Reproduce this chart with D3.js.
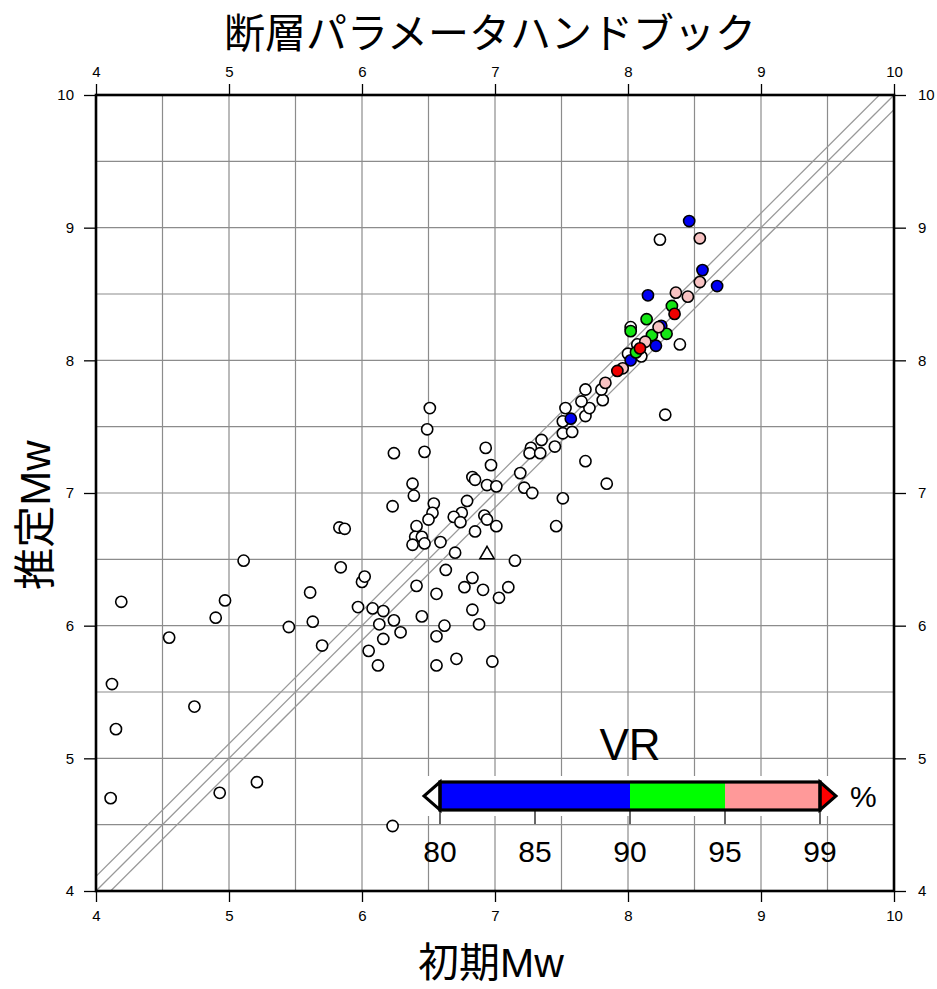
<!DOCTYPE html>
<html><head><meta charset="utf-8">
<script src="https://cdn.jsdelivr.net/npm/d3@7"></script>
<style>body{margin:0;background:#fff}svg{display:block}</style>
</head><body>
<script>
// ---- data ----
const axisTicks = [4,5,6,7,8,9,10];
const gridValues = [4.5,5,5.5,6,6.5,7,7.5,8,8.5,9,9.5];
const vrTicks = [80,85,90,95,99];
const vrTickLabels = ["80","85","90","95","99"];
const vrBreaks = [80,90,95,99];

// VR < 80 (white)
const initLow = [4.11,4.12,4.15,4.19,4.55,4.74,4.90,4.97,4.93,5.11,5.21,5.45,5.61,5.63,5.70,5.83,5.87,5.84,5.97,6.00,6.02,6.08,6.16,6.24,6.13,6.05,6.12,6.29,6.16,6.23,
 6.51,6.49,6.47,6.24,6.93,6.97,6.83,6.85,6.94,7.01,6.38,6.39,6.23,6.54,6.53,6.50,6.79,6.75,6.69,6.74,6.92,6.94,7.01,6.85,6.41,6.40,6.45,6.38,6.47,6.59,6.70,7.15,6.63,6.83,6.77,6.91,7.10,7.03,6.41,6.56,6.45,6.83,6.88,6.62,6.56,6.56,6.71,6.98,
 7.19,7.22,7.28,7.27,7.26,7.35,7.34,7.45,7.46,7.51,7.51,7.58,7.51,7.53,7.68,7.71,7.65,7.81,7.68,7.68,7.84,7.80,8.28,8.39,8.24,8.02,8.10,8.00,8.07];
const estLow = [4.70,5.56,5.22,6.18,5.91,5.39,6.06,6.19,4.74,6.49,4.82,5.99,6.25,6.03,5.85,6.74,6.73,6.44,6.14,6.33,6.37,6.13,6.11,6.04,6.01,5.81,5.70,5.95,5.90,4.49,
 7.64,7.48,7.31,7.30,7.34,7.21,7.12,7.10,7.06,7.05,7.07,6.98,6.90,6.92,6.85,6.80,6.94,6.85,6.82,6.78,6.83,6.80,6.75,6.71,6.75,6.67,6.67,6.61,6.62,6.63,6.55,6.49,6.42,6.36,6.29,6.27,6.29,6.21,6.30,6.24,6.07,6.12,6.01,6.00,5.92,5.70,5.75,5.73,
 7.15,7.04,7.00,7.34,7.30,7.40,7.30,7.35,6.75,6.96,7.45,7.46,7.54,7.64,7.58,7.64,7.69,7.70,7.78,7.24,7.07,7.78,7.59,8.12,8.91,8.25,8.03,8.05,8.12];
// special event (triangle)
const initTri = [6.94];
const estTri = [6.52];
// VR 80-90 (blue)
const initBlue = [7.57,8.02,8.21,8.15,8.25,8.46,8.56,8.67];
const estBlue  = [7.56,8.00,8.11,8.49,8.26,9.05,8.68,8.56];
// VR 90-95 (green)
const initGreen = [8.02,8.14,8.33,8.18,8.29,8.06];
const estGreen  = [8.22,8.31,8.41,8.19,8.20,8.06];
// VR 95-99 (pink)
const initPink = [7.83,7.96,8.13,8.23,8.36,8.45,8.54,8.54];
const estPink  = [7.83,7.94,8.14,8.25,8.51,8.48,8.59,8.92];
// VR > 99 (red)
const initRed = [7.92,8.09,8.35];
const estRed  = [7.92,8.09,8.35];

const bandOffset = 0.11;

// ---- layout ----
const W = 937, H = 989;
const L = 96, R = 894, T = 95, B = 891;
const fontLat = "'Liberation Sans', Arial, Helvetica, sans-serif";
const fontJp = "'Liberation Sans', 'Noto Sans CJK JP', sans-serif";

const svg = d3.select("body").append("svg").attr("width", W).attr("height", H);
const x = d3.scaleLinear().domain([4,10]).range([L,R]);
const y = d3.scaleLinear().domain([4,10]).range([B,T]);

// grid
const g = svg.append("g");
g.selectAll("line.gx").data(gridValues).enter().append("line")
  .attr("x1", d=>x(d)).attr("x2", d=>x(d)).attr("y1", T).attr("y2", B)
  .attr("stroke", "#8c8c8c").attr("stroke-width", 1.2);
g.selectAll("line.gy").data(gridValues).enter().append("line")
  .attr("y1", d=>y(d)).attr("y2", d=>y(d)).attr("x1", L).attr("x2", R)
  .attr("stroke", "#8c8c8c").attr("stroke-width", 1.2);

// diagonal band lines
svg.append("defs").append("clipPath").attr("id","clip").append("rect")
  .attr("x", L).attr("y", T).attr("width", R-L).attr("height", B-T);
const diag = svg.append("g").attr("clip-path","url(#clip)");
[-bandOffset, 0, bandOffset].forEach(o => {
  diag.append("line")
    .attr("x1", x(3.5)).attr("y1", y(3.5+o)).attr("x2", x(10.5)).attr("y2", y(10.5+o))
    .attr("stroke", "#999").attr("stroke-width", 1.3);
});

// axes
function styleAxis(sel){
  sel.selectAll("path").remove();
  sel.selectAll("line").attr("stroke","#000").attr("stroke-width",1.3);
  sel.selectAll("text").attr("font-family", fontLat).attr("font-size", 15).attr("fill","#000");
}
svg.append("g").attr("transform",`translate(0,${B})`)
  .call(d3.axisBottom(x).tickValues(axisTicks).tickFormat(d3.format("d")).tickSize(11).tickPadding(8)).call(styleAxis);
svg.append("g").attr("transform",`translate(0,${T})`)
  .call(d3.axisTop(x).tickValues(axisTicks).tickFormat(d3.format("d")).tickSize(11).tickPadding(7)).call(styleAxis);
svg.append("g").attr("transform",`translate(${L},0)`)
  .call(d3.axisLeft(y).tickValues(axisTicks).tickFormat(d3.format("d")).tickSize(12).tickPadding(10)).call(styleAxis);
svg.append("g").attr("transform",`translate(${R},0)`)
  .call(d3.axisRight(y).tickValues(axisTicks).tickFormat(d3.format("d")).tickSize(12).tickPadding(12)).call(styleAxis);

// frame
svg.append("rect").attr("x", L).attr("y", T).attr("width", R-L).attr("height", B-T)
  .attr("fill","none").attr("stroke","#000").attr("stroke-width",2.6);

// points
const pts = svg.append("g");
function drawPts(xs, ys, fill){
  pts.selectAll(null).data(xs.map((v,i)=>[v, ys[i]])).enter().append("circle")
    .attr("cx", d=>x(d[0])).attr("cy", d=>y(d[1])).attr("r", 5.6)
    .attr("fill", fill).attr("stroke", "#000").attr("stroke-width", 1.6);
}
drawPts(initLow, estLow, "#fff");
pts.selectAll(null).data(initTri.map((v,i)=>[v, estTri[i]])).enter().append("path")
  .attr("d", d3.symbol(d3.symbolTriangle, 90))
  .attr("transform", d=>`translate(${x(d[0])},${y(d[1])-2})`)
  .attr("fill","#fff").attr("stroke","#000").attr("stroke-width",1.5);
drawPts(initBlue, estBlue, "#0000f2");
drawPts(initGreen, estGreen, "#14e614");
drawPts(initPink, estPink, "#f7c2c2");
drawPts(initRed, estRed, "#f00000");

// colorbar (equal-width segments per class interval)
const cb = d3.scaleLinear().domain(vrBreaks).range([440,630,725,820]);
const cbTop = 782, cbBot = 810, cbMid = (cbTop+cbBot)/2;
const cbSegs = [[80,90,"#0000ff"],[90,95,"#00ff00"],[95,99,"#ff9999"]];
const cbg = svg.append("g");
cbg.append("rect").attr("x", cb(80)-14).attr("y", cbTop-6).attr("width", cb(99)-cb(80)+28).attr("height", cbBot-cbTop+12).attr("fill","#fff");
cbg.selectAll("rect.seg").data(cbSegs).enter().append("rect")
  .attr("x", d=>cb(d[0])).attr("y", cbTop).attr("width", d=>cb(d[1])-cb(d[0])).attr("height", cbBot-cbTop)
  .attr("fill", d=>d[2]);
cbg.append("path").attr("d", `M${cb(80)},${cbTop}L${cb(80)-16},${cbMid}L${cb(80)},${cbBot}Z`)
  .attr("fill","#fff").attr("stroke","#000").attr("stroke-width",3).attr("stroke-linejoin","miter");
cbg.append("path").attr("d", `M${cb(99)},${cbTop}L${cb(99)+16},${cbMid}L${cb(99)},${cbBot}Z`)
  .attr("fill","#f00").attr("stroke","#000").attr("stroke-width",3).attr("stroke-linejoin","miter");
cbg.append("rect").attr("x", cb(80)).attr("y", cbTop).attr("width", cb(99)-cb(80)).attr("height", cbBot-cbTop)
  .attr("fill","none").attr("stroke","#000").attr("stroke-width",3.2);
cbg.selectAll("line.t").data(vrTicks).enter().append("line")
  .attr("x1", d=>cb(d)).attr("x2", d=>cb(d)).attr("y1", cbBot).attr("y2", cbBot+14)
  .attr("stroke","#000").attr("stroke-width",1.2);
cbg.selectAll("text.t").data(vrTicks).enter().append("text")
  .attr("x", d=>cb(d)).attr("y", 862).attr("text-anchor","middle")
  .attr("font-family", fontLat).attr("font-size", 30).text((d,i)=>vrTickLabels[i]);
cbg.append("text").attr("x", (cb(80)+cb(99))/2).attr("y", 760).attr("text-anchor","middle")
  .attr("font-family", fontLat).attr("font-size", 44).text("VR");
cbg.append("text").attr("x", 850).attr("y", 807).attr("text-anchor","start")
  .attr("font-family", fontLat).attr("font-size", 30).text("%");

// titles
svg.append("text").attr("x", 490).attr("y", 48).attr("text-anchor","middle")
  .attr("font-family", fontJp).attr("font-size", 41).text("断層パラメータハンドブック");
svg.append("text").attr("x", 491).attr("y", 977).attr("text-anchor","middle")
  .attr("font-family", fontJp).attr("font-size", 41).text("初期Mw");
svg.append("text").attr("transform", "translate(50,515) rotate(-90)").attr("text-anchor","middle")
  .attr("font-family", fontJp).attr("font-size", 42).text("推定Mw");
</script>
</body></html>
